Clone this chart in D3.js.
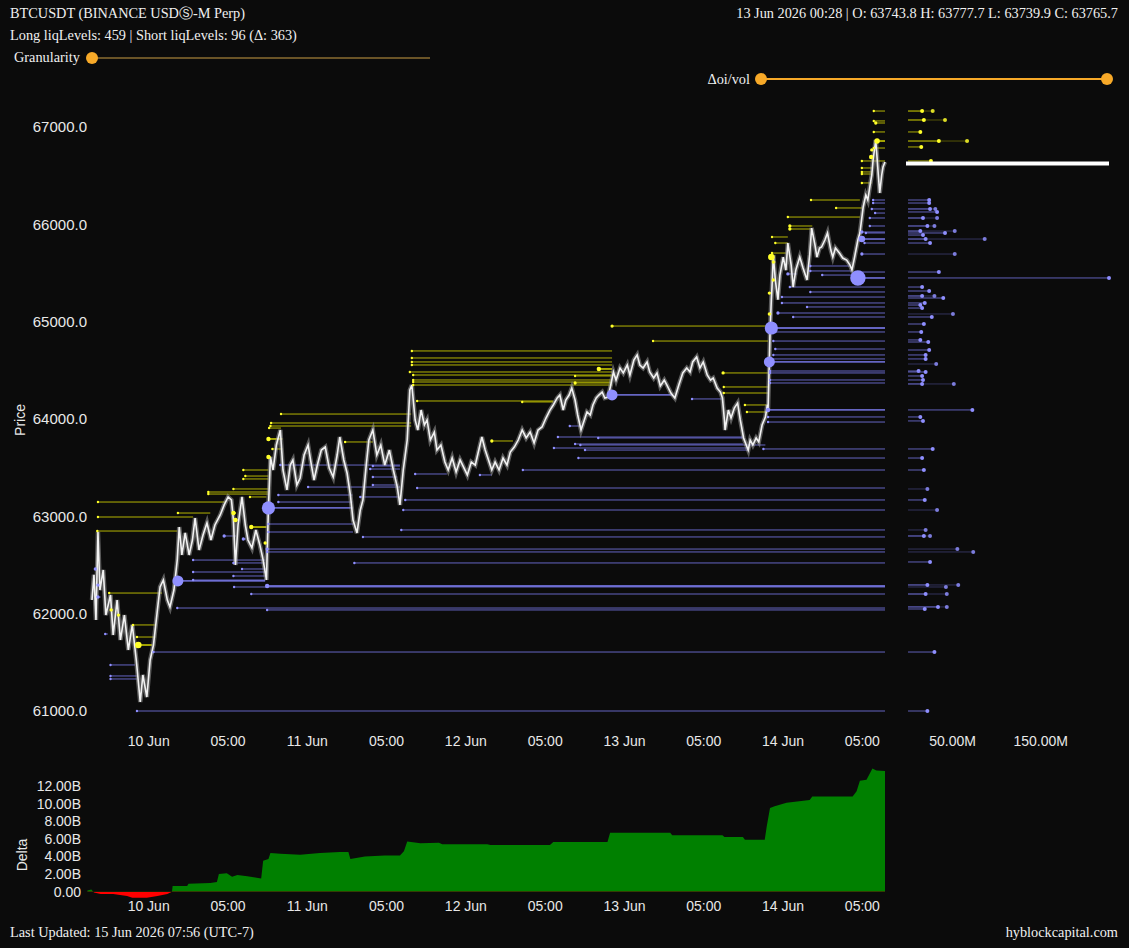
<!DOCTYPE html>
<html>
<head>
<meta charset="utf-8">
<script src="https://cdn.jsdelivr.net/npm/d3@7"></script>
<style>
  body { margin: 0; background: #0b0b0b; }
  svg { display: block; }
  .serif { font-family: "Liberation Serif", "Times New Roman", serif; font-size: 14.3px; fill: #f0f0f0; }
  .axis text { font-family: "Liberation Sans", Arial, sans-serif; font-size: 14px; fill: #e8e8e8; }
  .lbl { font-family: "Liberation Sans", Arial, sans-serif; font-size: 14px; fill: #e8e8e8; }
</style>
</head>
<body>
<svg id="chart" width="1129" height="948"></svg>
<script>
// hours since 10 Jun 00:00 on the x axis
const xTickHours = [0, 12, 24, 36, 48, 60, 72, 84, 96, 108];
const xTickLabels = ["10 Jun", "05:00", "11 Jun", "05:00", "12 Jun", "05:00", "13 Jun", "05:00", "14 Jun", "05:00"];
const priceTicks = [61000, 62000, 63000, 64000, 65000, 66000, 67000];
const deltaTicks = [0, 2, 4, 6, 8, 10, 12];
const bookTicks = [50, 150];
const currentPrice = 66625;

// [hour, price]
const pricePath = [
  [-8.5, 62140], [-8.2, 62400], [-7.9, 61935], [-7.6, 62840], [-7.3, 62243], [-6.8, 62449],
  [-6.4, 61986], [-5.7, 62192], [-5.3, 61781], [-4.7, 62140], [-4.2, 61730], [-3.6, 61986],
  [-3.0, 61627], [-2.4, 61884], [-1.8, 61524], [-1.2, 61093], [-0.8, 61370], [-0.2, 61144],
  [0.3, 61524], [0.8, 61678], [1.4, 62038], [1.8, 62274], [2.3, 62346], [2.9, 62140],
  [3.3, 62068], [3.9, 62243], [4.4, 62551], [4.7, 62890], [5.1, 62603], [5.6, 62829],
  [6.2, 62603], [6.7, 62757], [7.1, 62983], [7.7, 62654], [8.3, 62808], [8.9, 62932],
  [9.5, 62757], [10.1, 62911], [10.9, 63014], [11.5, 63117], [12.1, 63199], [12.6, 63168],
  [12.9, 62962], [13.2, 62500], [13.6, 62911], [14.2, 63199], [14.7, 62911], [15.1, 62757],
  [15.7, 62675], [16.3, 62860], [16.9, 62706], [17.4, 62551], [17.9, 62346], [18.2, 63096],
  [18.5, 63610], [18.9, 63476], [19.4, 63733], [20.0, 63887], [20.4, 63476], [21.0, 63271],
  [21.5, 63527], [21.9, 63579], [22.5, 63322], [23.0, 63394], [23.6, 63630], [24.2, 63733],
  [24.7, 63527], [25.1, 63373], [25.6, 63527], [26.2, 63681], [26.8, 63712], [27.4, 63496],
  [28.0, 63404], [28.6, 63630], [29.0, 63815], [29.6, 63579], [30.1, 63445], [30.6, 63219],
  [31.0, 62962], [31.6, 62829], [32.1, 63065], [32.5, 63168], [33.0, 63527], [33.4, 63784],
  [34.0, 63887], [34.6, 63630], [35.2, 63733], [35.8, 63527], [36.5, 63681], [37.1, 63476],
  [37.7, 63301], [38.1, 63117], [38.6, 63476], [39.2, 63784], [39.6, 64298], [39.9, 64349],
  [40.4, 63990], [40.8, 63887], [41.3, 64092], [41.8, 63938], [42.2, 63990], [42.7, 63784],
  [43.3, 63866], [43.7, 63681], [44.3, 63733], [44.9, 63558], [45.4, 63476], [46.0, 63599],
  [46.6, 63455], [47.2, 63579], [47.8, 63496], [48.3, 63425], [48.9, 63558], [49.5, 63527],
  [50.1, 63702], [50.5, 63815], [51.0, 63681], [51.4, 63599], [52.0, 63476], [52.5, 63558],
  [53.1, 63476], [53.7, 63599], [54.3, 63527], [54.8, 63661], [55.4, 63712], [56.0, 63784],
  [56.6, 63887], [57.2, 63805], [57.8, 63866], [58.4, 63753], [59.0, 63887], [59.6, 63918],
  [60.2, 64010], [60.8, 64092], [61.3, 64144], [61.9, 64216], [62.3, 64246], [62.8, 64092],
  [63.2, 64195], [63.7, 64246], [64.1, 64318], [64.6, 64195], [65.0, 64041], [65.5, 63887],
  [66.0, 63990], [66.4, 64072], [66.9, 64041], [67.3, 64144], [67.8, 64216], [68.2, 64246],
  [68.7, 64277], [69.1, 64216], [69.6, 64226], [70.0, 64349], [70.4, 64483], [70.8, 64400],
  [71.4, 64524], [71.9, 64473], [72.5, 64555], [72.9, 64452], [73.5, 64606], [74.0, 64658],
  [74.4, 64555], [74.9, 64524], [75.5, 64586], [75.9, 64483], [76.5, 64421], [77.0, 64473],
  [77.5, 64339], [78.1, 64400], [78.5, 64349], [79.1, 64267], [79.7, 64216], [80.3, 64349],
  [80.9, 64473], [81.5, 64524], [82.0, 64483], [82.4, 64586], [83.0, 64637], [83.5, 64524],
  [84.0, 64586], [84.6, 64452], [85.1, 64400], [85.5, 64421], [86.1, 64318], [86.6, 64277],
  [86.9, 64216], [87.2, 63990], [87.3, 63887], [87.8, 64092], [88.2, 64010], [88.7, 64113],
  [89.2, 64164], [89.6, 63990], [90.1, 63805], [90.5, 63733], [90.8, 63681], [91.1, 63784],
  [91.5, 63733], [92.0, 63805], [92.4, 63764], [92.9, 63938], [93.4, 64020], [93.7, 64144],
  [93.8, 64092], [94.0, 64606], [94.1, 64884], [94.3, 65226], [94.4, 65356], [94.6, 65685],
  [94.9, 65428], [95.3, 65226], [95.6, 65479], [96.1, 65664], [96.5, 65530], [96.8, 65808],
  [97.3, 65582], [97.6, 65356], [98.0, 65530], [98.6, 65664], [99.1, 65551], [99.7, 65428],
  [100.1, 65685], [100.4, 65962], [100.9, 65788], [101.2, 65664], [101.6, 65757], [101.9, 65767],
  [102.4, 65839], [102.8, 65911], [103.3, 65736], [103.6, 65664], [104.0, 65757], [104.6, 65705],
  [105.1, 65654], [105.7, 65633], [106.2, 65582], [106.5, 65531], [106.9, 65664], [107.4, 65839],
  [107.7, 65911], [108.2, 66178], [108.6, 66301], [108.9, 66250], [109.2, 66384], [109.5, 66507],
  [109.7, 66661], [110.1, 66866], [110.4, 66589], [110.7, 66322], [111.0, 66507], [111.2, 66589],
  [111.5, 66640]
];

// [hour, cumulative delta in billions]
const deltaPath = [
  [-9.2, 0.15], [-8.6, 0.25], [-8.2, -0.1], [-7.2, -0.25], [-5.3, -0.25], [-3.2, -0.5],
  [-2.4, -0.7], [-0.2, -0.68], [1.4, -0.5], [2.9, -0.25], [3.6, 0], [3.7, 0.65], [5.9, 0.65],
  [6.1, 0.9], [9.4, 1.0], [10.4, 1.1], [10.7, 2.0], [11.9, 2.1], [12.7, 1.7], [13.5, 1.9],
  [15.0, 1.75], [16.2, 1.6], [17.1, 1.5], [17.4, 3.5], [18.2, 3.7], [18.5, 4.4], [20.0, 4.3],
  [23.0, 4.2], [26.0, 4.4], [29.0, 4.5], [30.3, 4.5], [30.6, 3.7], [32.8, 4.0], [35.8, 4.1],
  [38.1, 4.1], [38.7, 4.6], [39.2, 5.7], [41.2, 5.5], [44.0, 5.55], [44.5, 5.4], [51.3, 5.4],
  [51.8, 5.3], [60.8, 5.3], [61.3, 5.65], [69.5, 5.65], [69.9, 6.7], [79.0, 6.7], [79.3, 6.4],
  [86.9, 6.4], [87.2, 6.2], [90.0, 6.2], [90.3, 5.9], [93.3, 5.9], [93.6, 7.4], [94.1, 9.5],
  [94.8, 9.7], [96.6, 10.1], [100.1, 10.4], [100.5, 10.8], [106.6, 10.8], [107.2, 11.4],
  [107.7, 12.6], [108.7, 12.7], [109.6, 14.0], [110.2, 13.75], [111.5, 13.7]
];

// short liq levels (above price): [fromHour, toHour, price, size]
const shortLevels = [
  [20.1, 39.8, 64051, 1], [18.6, 39.8, 63959, 1], [18.5, 39.8, 63928, 1], [18.3, 20.1, 63907, 1],
  [18.2, 20.3, 63795, 2], [29.8, 34.0, 63764, 1], [18.8, 20.3, 63692, 1], [18.2, 18.6, 63610, 2],
  [14.4, 18.2, 63476, 1], [14.7, 18.2, 63414, 1], [14.4, 18.2, 63384, 1], [12.9, 18.2, 63281, 1],
  [9.1, 18.2, 63250, 1], [9.1, 18.2, 63229, 1], [15.4, 17.9, 63199, 1], [-7.6, 11.7, 63147, 1],
  [4.5, 9.4, 63034, 1], [-7.6, 6.8, 62993, 1], [12.9, 13.3, 63034, 2], [13.2, 13.6, 62962, 2],
  [15.6, 17.9, 62890, 2], [-7.7, 4.4, 62849, 1], [17.7, 18.1, 62726, 1.5], [-5.9, 2.1, 62212, 1],
  [-5.6, -5.3, 62038, 1.5], [-4.5, -4.2, 61986, 1.5], [-2.3, 1.1, 61884, 1], [-1.7, 1.1, 61760, 1],
  [-1.5, 0.6, 61678, 3],
  [39.9, 70.2, 64699, 1], [39.9, 70.2, 64627, 1], [39.9, 70.2, 64586, 1], [39.9, 70.2, 64555, 1],
  [39.6, 70.2, 64483, 1], [40.1, 70.2, 64452, 1], [40.1, 70.2, 64401, 1], [40.1, 70.2, 64380, 1],
  [40.1, 70.2, 64349, 1], [68.2, 70.2, 64514, 2], [64.6, 70.2, 64442, 1], [64.6, 70.2, 64370, 1.5],
  [70.2, 93.8, 64955, 1.5], [76.4, 93.8, 64801, 1], [87.0, 93.8, 64473, 1.5], [87.1, 93.8, 64329, 1],
  [87.1, 93.8, 64267, 1], [40.7, 61.3, 64185, 1], [56.6, 61.3, 64175, 1], [90.3, 93.8, 64144, 1],
  [90.6, 93.8, 64072, 1], [52.0, 55.2, 63774, 1.5],
  [100.3, 107.7, 66250, 1], [104.1, 108.0, 66168, 1], [96.8, 107.7, 66075, 1], [97.1, 100.5, 65983, 1.5],
  [97.1, 100.5, 65952, 1.5], [94.4, 96.8, 65870, 1], [94.9, 96.8, 65808, 1], [94.4, 96.5, 65705, 1],
  [94.3, 94.8, 65664, 3], [94.6, 95.0, 65613, 1.5], [94.6, 95.0, 65428, 1.5], [94.0, 94.4, 65294, 1.5],
  [94.0, 94.4, 65079, 1.5], [108.0, 111.5, 66651, 1], [109.4, 109.8, 66692, 2], [108.0, 109.7, 66579, 1],
  [108.0, 109.5, 66538, 1], [108.0, 109.5, 66517, 1], [108.0, 109.5, 66425, 1], [110.3, 111.5, 66856, 2.5],
  [109.8, 111.5, 67164, 1], [109.8, 111.5, 67062, 1], [110.1, 111.5, 67041, 1.5], [109.8, 111.5, 66949, 1],
  [109.8, 111.5, 66784, 1], [109.5, 110.0, 66764, 1.5]
];

// long liq levels (below price): [fromHour, toHour, price, size]
const longLevels = [
  [109.7, 111.5, 66250, 1], [109.7, 111.5, 66219, 1], [109.5, 111.5, 66158, 1], [110.0, 111.5, 66116, 1],
  [109.2, 111.5, 66065, 1], [109.2, 111.5, 65983, 1], [108.0, 111.5, 65921, 1.5], [108.6, 111.5, 65911, 1],
  [108.0, 111.5, 65849, 3], [108.4, 111.5, 65808, 1], [108.0, 111.5, 65695, 1.5], [107.7, 111.5, 65510, 1],
  [107.4, 111.5, 65449, 7], [100.2, 106.2, 65572, 1], [100.2, 106.5, 65521, 1], [102.0, 106.5, 65479, 1],
  [96.8, 98.2, 65490, 1.5], [97.1, 111.5, 65356, 1], [100.2, 111.5, 65305, 1], [95.9, 111.5, 65253, 1],
  [95.9, 111.5, 65192, 1], [99.7, 111.5, 65151, 1], [95.3, 111.5, 65089, 1.5], [97.6, 111.5, 65048, 1],
  [94.3, 111.5, 64935, 6], [94.9, 111.5, 64894, 1], [94.6, 111.5, 64801, 1], [94.9, 111.5, 64719, 1],
  [94.6, 111.5, 64658, 1], [94.1, 111.5, 64617, 1], [94.0, 111.5, 64586, 5], [94.1, 111.5, 64493, 1],
  [94.1, 111.5, 64473, 1], [94.1, 111.5, 64401, 1], [94.1, 111.5, 64370, 1], [93.8, 111.5, 64093, 2],
  [93.8, 111.5, 64021, 1], [93.8, 111.5, 63969, 1], [93.1, 111.5, 63692, 1], [65.1, 111.5, 63599, 1],
  [56.7, 111.5, 63476, 1], [62.0, 90.0, 63815, 1], [68.1, 90.0, 63805, 1], [64.6, 90.0, 63743, 1],
  [65.4, 93.4, 63733, 1], [61.4, 90.8, 63702, 1], [66.1, 90.8, 63681, 1], [70.2, 79.3, 64247, 5],
  [82.3, 86.8, 64206, 1], [63.8, 65.7, 63928, 1], [34.0, 38.1, 63517, 1], [33.6, 38.1, 63486, 1],
  [50.2, 52.0, 63425, 1], [40.4, 45.2, 63435, 1], [34.0, 37.7, 63404, 1], [34.0, 37.8, 63322, 1],
  [40.7, 111.5, 63291, 1], [19.7, 30.9, 63219, 1], [32.1, 38.1, 63199, 1], [38.9, 111.5, 63168, 1],
  [19.7, 30.9, 63147, 1], [18.2, 30.9, 63086, 6], [38.6, 111.5, 63065, 1], [18.2, 31.0, 62921, 1],
  [38.3, 111.5, 62860, 1], [18.2, 31.0, 62839, 1], [32.5, 111.5, 62788, 1], [18.0, 111.5, 62664, 1.5],
  [18.0, 111.5, 62634, 1], [31.2, 111.5, 62521, 1], [20.0, 38.1, 63527, 1], [24.2, 38.1, 63301, 1],
  [14.2, 17.9, 62459, 1], [6.8, 17.7, 62551, 1], [12.9, 17.7, 62521, 1], [6.8, 17.7, 62428, 1],
  [12.9, 17.7, 62387, 1], [6.8, 17.7, 62346, 1], [4.5, 17.7, 62336, 5], [18.0, 111.5, 62284, 2],
  [13.0, 111.5, 62274, 1], [15.6, 111.5, 62202, 1], [4.4, 111.5, 62058, 1], [18.0, 111.5, 62038, 1],
  [11.5, 13.3, 62798, 1.5], [14.4, 14.8, 62767, 1.5], [-8.0, -7.6, 62459, 1.5], [-7.6, -7.2, 62294, 1.5],
  [-7.6, -7.2, 62171, 1.5], [0.8, 111.5, 61606, 1], [-5.7, -2.0, 61473, 1], [-5.7, -1.7, 61360, 1],
  [-5.7, -1.7, 61329, 1], [-1.7, 111.5, 61000, 1], [-6.5, -6.1, 61791, 1]
];

// liquidation book on the right: [price, value M, faint extension M]
const shortBook = [
  [67164, 16, 28], [67072, 18, 42], [66949, 14, 0], [66856, 35, 67], [66795, 15, 0], [66651, 26, 0]
];
const longBook = [
  [66250, 24, 0], [66219, 24, 0], [66158, 25, 31], [66127, 33, 0], [66065, 17, 33], [65983, 22, 30],
  [65931, 14, 53], [65911, 42, 0], [65890, 17, 0], [65849, 20, 87], [65808, 25, 0], [65695, 0, 53],
  [65510, 35, 0], [65449, 228, 0], [65356, 16, 0], [65315, 24, 0], [65264, 16, 30], [65243, 40, 0],
  [65192, 19, 0], [65171, 14, 0], [65140, 16, 0], [65079, 0, 51], [65048, 27, 0], [64976, 18, 0],
  [64894, 15, 0], [64812, 14, 0], [64791, 23, 0], [64709, 24, 0], [64658, 20, 0], [64617, 20, 0],
  [64565, 0, 32], [64493, 12, 0], [64483, 20, 0], [64442, 16, 0], [64401, 17, 0], [64360, 16, 52],
  [64093, 73, 0], [64021, 14, 0], [63980, 17, 0], [63692, 28, 0], [63599, 16, 0], [63476, 18, 0],
  [63281, 0, 22], [63168, 19, 0], [63065, 0, 33], [62860, 0, 20], [62798, 18, 25], [62664, 0, 56],
  [62634, 0, 74], [62531, 25, 0], [62295, 22, 57], [62274, 0, 43], [62202, 20, 44], [62069, 34, 44],
  [62048, 19, 0], [61606, 30, 0], [61000, 22, 0]
];

const svg = d3.select("#chart");
svg.append("rect").attr("width", 1129).attr("height", 948).attr("fill", "#0b0b0b");

const x = d3.scaleLinear().domain([-8.5, 111.5]).range([92, 885]);
const y = d3.scaleLinear().domain([61000, 67000]).range([711, 127]);
const xb = d3.scaleLinear().domain([0, 228]).range([908, 1109]);
const yd = d3.scaleLinear().domain([0, 12]).range([891.7, 786]);

const yellowLine = "#dede00", yellowDot = "#ffff2a";
const purpleLine = "#7c7cf0", purpleDot = "#8f8fff";

// header
svg.append("text").attr("class", "serif").attr("x", 10).attr("y", 18)
  .text("BTCUSDT (BINANCE USDⓈ-M Perp)");
svg.append("text").attr("class", "serif").attr("x", 10).attr("y", 40)
  .text("Long liqLevels: 459 | Short liqLevels: 96 (Δ: 363)");
svg.append("text").attr("class", "serif").attr("x", 1118).attr("y", 18).attr("text-anchor", "end")
  .text("13 Jun 2026 00:28 | O: 63743.8 H: 63777.7 L: 63739.9 C: 63765.7");

// sliders
svg.append("text").attr("class", "serif").attr("x", 14).attr("y", 62).text("Granularity");
svg.append("line").attr("x1", 92).attr("x2", 430).attr("y1", 58).attr("y2", 58)
  .attr("stroke", "#6a5427").attr("stroke-width", 2);
svg.append("circle").attr("cx", 92).attr("cy", 58).attr("r", 6).attr("fill", "#f7a928");

svg.append("text").attr("class", "serif").attr("x", 750).attr("y", 84).attr("text-anchor", "end").text("Δoi/vol");
svg.append("line").attr("x1", 761).attr("x2", 1107).attr("y1", 79).attr("y2", 79)
  .attr("stroke", "#f7a928").attr("stroke-width", 2);
svg.selectAll(".knob").data([761, 1107]).join("circle").attr("class", "knob")
  .attr("cx", d => d).attr("cy", 79).attr("r", 6).attr("fill", "#f7a928");

// level lines
function levelLines(levels, color) {
  svg.append("g").selectAll("line").data(levels).join("line")
    .attr("x1", d => x(d[0])).attr("x2", d => x(d[1]))
    .attr("y1", d => y(d[2])).attr("y2", d => y(d[2]))
    .attr("stroke", color)
    .attr("stroke-width", d => (d[3] >= 2 ? 1.8 : 1))
    .attr("opacity", 0.8);
}
levelLines(longLevels, purpleLine);
levelLines(shortLevels, yellowLine);

// price
const priceLine = d3.line().x(d => x(d[0])).y(d => y(d[1]));
svg.append("path").datum(pricePath).attr("d", priceLine)
  .attr("fill", "none").attr("stroke", "#9a9a9a").attr("stroke-width", 4.5).attr("opacity", 0.55);
svg.append("path").datum(pricePath).attr("d", priceLine)
  .attr("fill", "none").attr("stroke", "#f2f2f2").attr("stroke-width", 1.6);

// level dots
function levelDots(levels, color) {
  svg.append("g").selectAll("circle").data(levels).join("circle")
    .attr("cx", d => x(d[0])).attr("cy", d => y(d[2]))
    .attr("r", d => Math.max(1.2, d[3] * 1.1))
    .attr("fill", color);
}
levelDots(longLevels, purpleDot);
levelDots(shortLevels, yellowDot);

// book panel
function bookRows(rows, lineColor, dotColor) {
  const g = svg.append("g");
  rows.forEach(r => {
    const py = y(r[0]);
    if (r[2] > 0) {
      g.append("line").attr("x1", xb(0)).attr("x2", xb(r[2])).attr("y1", py).attr("y2", py)
        .attr("stroke", lineColor).attr("stroke-width", 1).attr("opacity", 0.35);
      g.append("circle").attr("cx", xb(r[2])).attr("cy", py).attr("r", 2).attr("fill", dotColor).attr("opacity", 0.85);
    }
    if (r[1] > 0) {
      g.append("line").attr("x1", xb(0)).attr("x2", xb(r[1])).attr("y1", py).attr("y2", py)
        .attr("stroke", lineColor).attr("stroke-width", 1).attr("opacity", 0.75);
      g.append("circle").attr("cx", xb(r[1])).attr("cy", py).attr("r", 2).attr("fill", dotColor);
    }
  });
}
bookRows(longBook, purpleLine, purpleDot);
bookRows(shortBook, yellowLine, yellowDot);

svg.append("line").attr("x1", xb(0) - 2).attr("x2", xb(228)).attr("y1", y(currentPrice)).attr("y2", y(currentPrice))
  .attr("stroke", "#ffffff").attr("stroke-width", 4);

// axes
const yAxis = svg.append("g").attr("class", "axis").attr("transform", "translate(92,0)")
  .call(d3.axisLeft(y).tickValues(priceTicks).tickFormat(d3.format(".1f")).tickSize(0).tickPadding(5));
yAxis.select(".domain").remove();
yAxis.selectAll("text").style("font-size", "15px");

const xAxis = svg.append("g").attr("class", "axis").attr("transform", "translate(0,732)")
  .call(d3.axisBottom(x).tickValues(xTickHours).tickFormat((d, i) => xTickLabels[i]).tickSize(0).tickPadding(4));
xAxis.select(".domain").remove();

const bAxis = svg.append("g").attr("class", "axis").attr("transform", "translate(0,732)")
  .call(d3.axisBottom(xb).tickValues(bookTicks).tickFormat(d => d.toFixed(2) + "M").tickSize(0).tickPadding(4));
bAxis.select(".domain").remove();

svg.append("text").attr("class", "lbl").attr("transform", "translate(25,420) rotate(-90)")
  .attr("text-anchor", "middle").text("Price");

// delta
const deltaArea = d3.area().x(d => x(d[0])).y0(yd(0)).y1(d => yd(d[1]));
const defs = svg.append("defs");
defs.append("clipPath").attr("id", "above").append("rect")
  .attr("x", 0).attr("y", 740).attr("width", 1129).attr("height", yd(0) - 740);
defs.append("clipPath").attr("id", "below").append("rect")
  .attr("x", 0).attr("y", yd(0)).attr("width", 1129).attr("height", 40);
svg.append("path").datum(deltaPath).attr("d", deltaArea).attr("fill", "#008000").attr("clip-path", "url(#above)");
svg.append("path").datum(deltaPath).attr("d", deltaArea).attr("fill", "#ff0000").attr("clip-path", "url(#below)");

const dAxis = svg.append("g").attr("class", "axis").attr("transform", "translate(86,0)")
  .call(d3.axisLeft(yd).tickValues(deltaTicks).tickFormat(d => (d === 0 ? "0.00" : d.toFixed(2) + "B")).tickSize(0).tickPadding(5));
dAxis.select(".domain").remove();

const dxAxis = svg.append("g").attr("class", "axis").attr("transform", "translate(0,897)")
  .call(d3.axisBottom(x).tickValues(xTickHours).tickFormat((d, i) => xTickLabels[i]).tickSize(0).tickPadding(4));
dxAxis.select(".domain").remove();

svg.append("text").attr("class", "lbl").attr("transform", "translate(27,855) rotate(-90)")
  .attr("text-anchor", "middle").text("Delta");

// footer
svg.append("text").attr("class", "serif").attr("x", 10).attr("y", 937)
  .text("Last Updated: 15 Jun 2026 07:56 (UTC-7)");
svg.append("text").attr("class", "serif").attr("x", 1118).attr("y", 937).attr("text-anchor", "end")
  .text("hyblockcapital.com");
</script>
</body>
</html>
